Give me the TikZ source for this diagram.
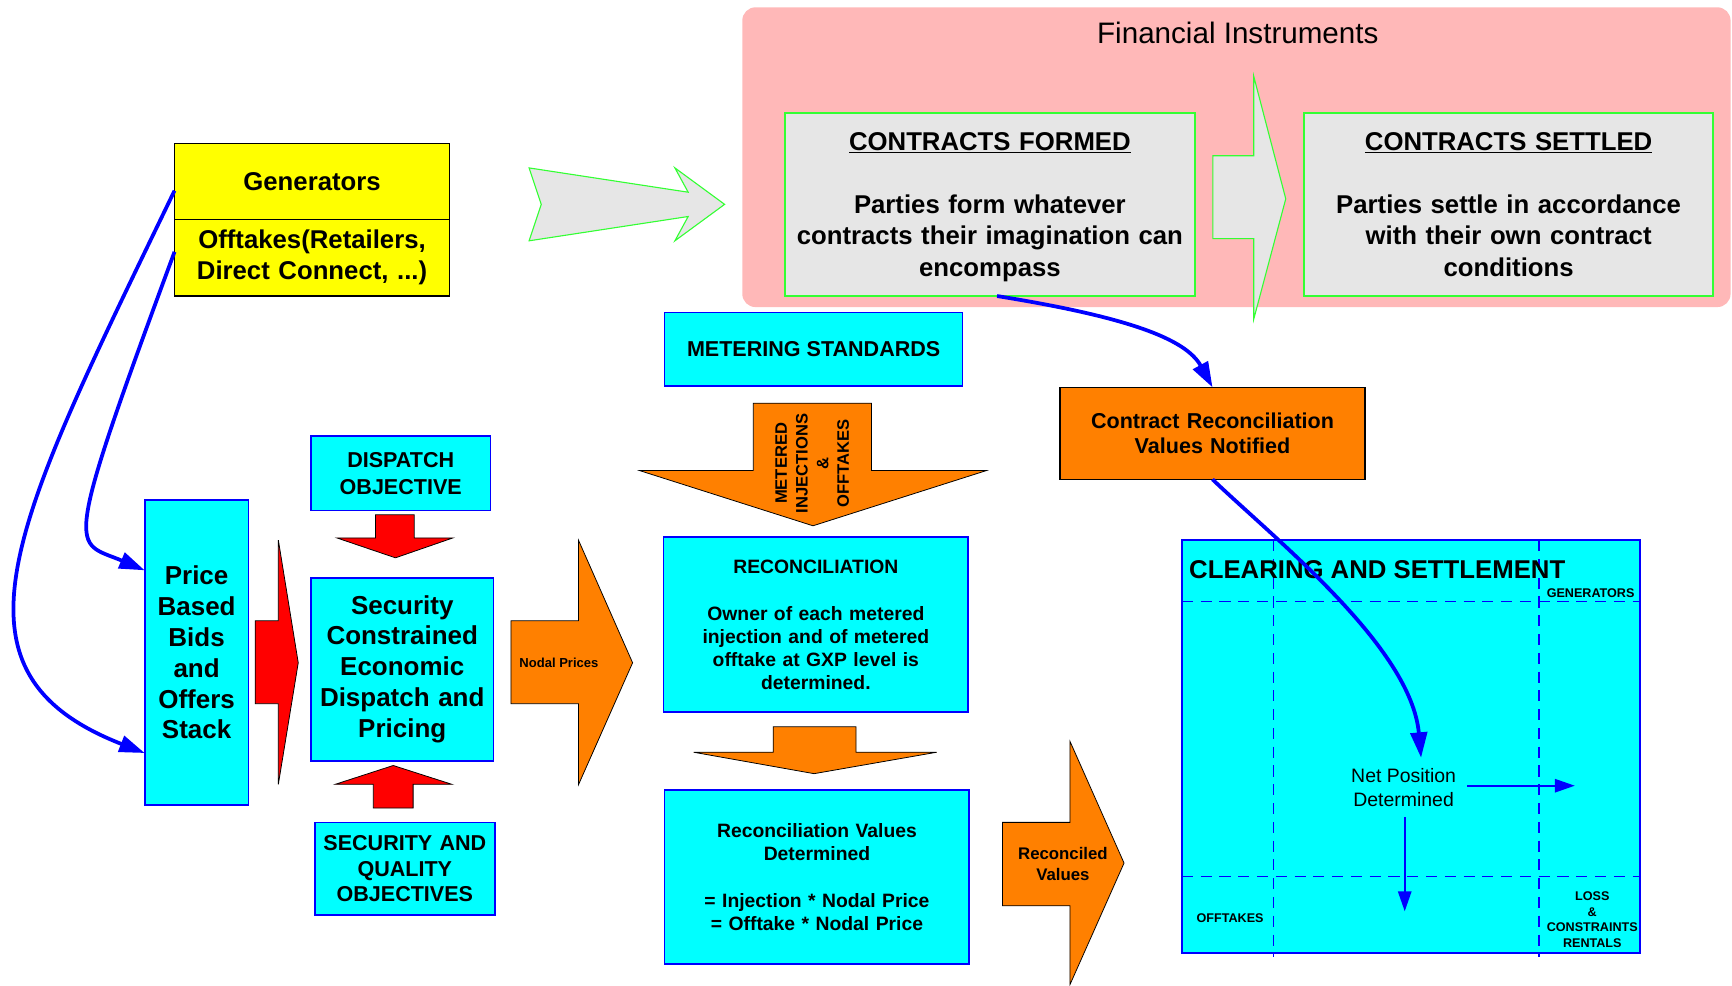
\documentclass[tikz,border=0pt]{standalone}
\usepackage{fontspec}
\setmainfont{Liberation Sans}
\usetikzlibrary{arrows.meta,calc}
\definecolor{pinkbg}{RGB}{255,184,184}
\definecolor{lgray}{RGB}{230,230,230}
\definecolor{ggreen}{RGB}{51,255,51}
\definecolor{ccyan}{RGB}{0,255,255}
\definecolor{bblue}{RGB}{0,0,255}
\definecolor{oorange}{RGB}{255,128,0}
\definecolor{rred}{RGB}{255,0,0}
\definecolor{yyellow}{RGB}{255,255,0}
\tikzset{
  basebox/.style={inner sep=0pt, outer sep=0pt, align=center},
  cyanbox/.style={basebox, draw=bblue, fill=ccyan, line width=1.5pt},
  graybox/.style={basebox, draw=ggreen, fill=lgray, line width=1.5pt},
  yelbox/.style={basebox, draw=black, fill=yyellow, line width=1.3pt},
  orbox/.style={basebox, draw=black, fill=oorange, line width=1.3pt},
  garrow/.style={draw=ggreen, fill=lgray, line width=1pt, line join=miter},
  oarrow/.style={draw=black, fill=oorange, line width=0.7pt, line join=miter},
  rarrow/.style={draw=black, fill=rred, line width=0.7pt, line join=miter},
  conn/.style={draw=bblue, line width=3.4pt, -{Triangle[length=23pt,width=15pt]}},
  thinconn/.style={draw=bblue, line width=1.8pt, -{Triangle[length=18pt,width=12pt]}},
  dashline/.style={draw=bblue, line width=1.3pt, dash pattern=on 10pt off 7pt},
  lbl/.style={inner sep=0pt, outer sep=0pt, align=center},
  fbig/.style={font=\bfseries\fontsize{23.3}{28}\selectfont},
  fmid/.style={font=\bfseries\fontsize{19.5}{23}\selectfont},
  fsmall/.style={font=\bfseries\fontsize{17.5}{21}\selectfont},
  ftiny/.style={font=\bfseries\fontsize{11.4}{14}\selectfont},
}
\begin{document}
\begin{tikzpicture}[x=1pt,y=-1pt]
\useasboundingbox (0,0) rectangle (1568,892.6);

% Financial instruments background
\node[fill=pinkbg, rounded corners=12pt, minimum width=894.7pt, minimum height=271.4pt, inner sep=0pt] (fin) at (1119.35,142.3) {};
\node[lbl, font=\fontsize{26.8}{30}\selectfont] (fintitle) at (1120.6,30.2) {Financial Instruments};

% Generators / Offtakes
\node[yelbox, fbig, minimum width=249pt, minimum height=68.6pt, text width=240pt] (gen) at (282.5,164.3) {Generators};
\node[yelbox, fbig, minimum width=249pt, minimum height=69.4pt, text width=240pt] (off) at (282.5,233.3) {Offtakes(Retailers,\\Direct Connect, ...)};

% gray arrow to contracts
\draw[garrow] (479,152) -- (623,174) -- (611,152) -- (656,185) -- (611,218) -- (623,196) -- (479,218) -- (490,185) -- cycle;

% Contracts formed / settled
\node[graybox, font=\bfseries\fontsize{23.3}{28.5}\selectfont, minimum width=371pt, minimum height=166pt, text width=362pt] (cf) at (896.15,185)
  {\underline{CONTRACTS FORMED}\\[28.5pt]Parties form whatever\\contracts their imagination can\\\raisebox{0pt}[\height][0pt]{encompass}};
\draw[garrow] (1098,141) -- (1135,141) -- (1135,69) -- (1164,180) -- (1135,289) -- (1135,216) -- (1098,216) -- cycle;
\node[graybox, font=\bfseries\fontsize{23.3}{28.5}\selectfont, minimum width=370.5pt, minimum height=166pt, text width=362pt] (cset) at (1365.75,185)
  {\underline{CONTRACTS SETTLED}\\[28.5pt]Parties settle in accordance\\with their own contract\\conditions};

% Metering standards and metered arrow
\node[cyanbox, fmid, minimum width=269.8pt, minimum height=66.5pt] (ms) at (736.6,316.25) {METERING STANDARDS};
\draw[oarrow] (682,365) -- (789,365) -- (789,426) -- (893,426) -- (736,476) -- (579,426) -- (682,426) -- cycle;
\node[lbl, rotate=90, font=\bfseries\fontsize{15}{18.7}\selectfont] (metered) at (735.4,419.5) {METERED\\INJECTIONS\\\&\\OFFTAKES};

% Dispatch side
\node[cyanbox, font=\bfseries\fontsize{19.5}{24}\selectfont, minimum width=162.4pt, minimum height=67pt] (disp) at (362.8,428.5) {DISPATCH\\OBJECTIVE};
\draw[rarrow] (340,466) -- (375,466) -- (375,487) -- (410,487) -- (358,505) -- (305,487) -- (340,487) -- cycle;
\node[cyanbox, font=\bfseries\fontsize{23.5}{28}\selectfont, minimum width=165.1pt, minimum height=165.7pt, text width=160pt] (sced) at (364.15,605.85)
  {Security\\Constrained\\Economic\\Dispatch and\\Pricing};
\draw[rarrow] (356,693) -- (409,710) -- (374,710) -- (374,731.5) -- (338,731.5) -- (338,710) -- (303.6,710) -- cycle;
\node[cyanbox, fmid, minimum width=163pt, minimum height=83.9pt, text width=160pt] (saq) at (366.5,786.45) {SECURITY AND\\QUALITY\\OBJECTIVES};

\node[cyanbox, font=\bfseries\fontsize{23.5}{28}\selectfont, minimum width=94pt, minimum height=276.4pt, text width=92pt] (price) at (178,590.6)
  {Price\\Based\\Bids\\and\\Offers\\Stack};
\draw[rarrow] (231,562) -- (252,562) -- (252,489) -- (270,600) -- (252,710) -- (252,637) -- (231,637) -- cycle;

% Nodal prices arrow
\draw[oarrow] (462.6,562) -- (523.7,562) -- (523.7,489) -- (572.7,600) -- (523.7,710.4) -- (523.7,637) -- (462.6,637) -- cycle;
\node[lbl, font=\bfseries\fontsize{11.8}{14}\selectfont] (nodal) at (506,600) {Nodal Prices};

% Reconciliation
\node[cyanbox, font=\bfseries\fontsize{17.5}{20.8}\selectfont, minimum width=275.8pt, minimum height=158.2pt, text width=268pt] (rec) at (738.6,565.5)
  {RECONCILIATION\\[22pt]Owner of each metered\\injection and of metered\\offtake at GXP level is\\determined.};
\draw[oarrow] (700,658) -- (775,658) -- (775,681) -- (848,681) -- (737,700.4) -- (628,681) -- (700,681) -- cycle;
\node[cyanbox, fsmall, minimum width=275.8pt, minimum height=157.5pt, text width=268pt] (recv) at (739.6,793.95)
  {Reconciliation Values\\Determined\\[21pt]= Injection * Nodal Price\\= Offtake * Nodal Price};

% Reconciled values arrow
\draw[oarrow] (907.6,744.5) -- (968.6,744.5) -- (968.6,671) -- (1017.6,781.3) -- (968.6,891.5) -- (968.6,820) -- (907.6,820) -- cycle;
\node[lbl, font=\bfseries\fontsize{15.2}{19}\selectfont] (recd) at (962.3,782) {Reconciled\\Values};

% Contract reconciliation values notified
\node[orbox, fmid, minimum width=276pt, minimum height=83.3pt, text width=268pt] (crv) at (1097.7,392.35) {Contract Reconciliation\\Values Notified};

% Clearing and settlement
\node[cyanbox, minimum width=414.7pt, minimum height=373.8pt] (clr) at (1277.35,675.9) {};
\draw[dashline] (1070,544.7) -- (1484.7,544.7);
\draw[dashline] (1070,793.3) -- (1484.7,793.3);
\draw[dashline] (1153,489) -- (1153,866);
\draw[dashline] (1393.3,489) -- (1393.3,866);
\node[lbl, fbig, anchor=west] (clrtitle) at (1076.6,515.7) {CLEARING AND SETTLEMENT};
\node[lbl, ftiny] (genlbl) at (1440,537) {GENERATORS};
\node[lbl, ftiny] (offlbl) at (1113.6,830.8) {OFFTAKES};
\node[lbl, ftiny] (losslbl) at (1441.5,832.5) {LOSS\\\&\\CONSTRAINTS\\RENTALS};
\node[lbl, font=\fontsize{17.6}{21}\selectfont] (net) at (1270.7,713) {Net Position\\Determined};
\coordinate (netin) at (1286.5,686);
\coordinate (genout) at (1425.7,711.3);
\coordinate (offout) at (1271.7,825);
\draw[thinconn] ($(net.east)+(10,-1.7)$) -- (genout);
\draw[thinconn] ($(net.south)+(1,10)$) -- (offout);

% Connectors
\draw[conn] ($(gen.west)+(0,8.3)$) .. controls +(-145,300) and +(-190,-74) .. ($(price.west)+(0,91.1)$);
\draw[conn] ($(off.west)+(0,-5.3)$) .. controls +(-104,281) and +(-64.4,-27.3) .. ($(price.west)+(0,-74.3)$);
\draw[conn] ($(cf.south)+(6.5,0)$) .. controls +(118,19) and +(-24,-44) .. (crv.north);
\draw[conn] (crv.south) .. controls +(57.6,55) and +(-9,-100) .. (netin);
\end{tikzpicture}
\end{document}
